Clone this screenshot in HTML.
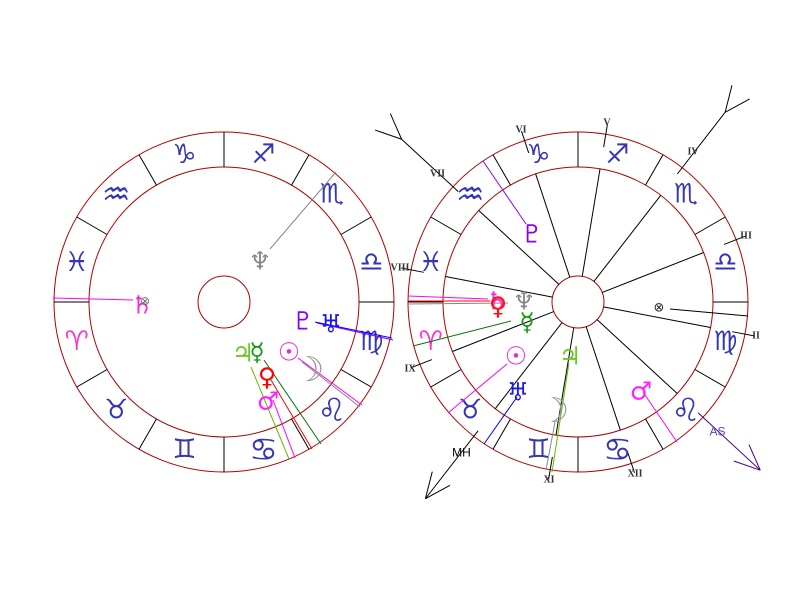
<!DOCTYPE html>
<html>
<head>
<meta charset="utf-8">
<style>
html,body{margin:0;padding:0;background:#fff;}
svg{display:block;}
.sg{font-family:"DejaVu Sans",sans-serif;font-size:27px;fill:#3636b4;}
.big{font-size:32px;}
.pl{font-family:"DejaVu Sans",sans-serif;font-size:25px;}
.hl{font-family:"Liberation Serif",serif;font-size:10px;font-weight:bold;fill:#333;}
</style>
</head>
<body>
<svg width="800" height="600" viewBox="0 0 800 600" xmlns="http://www.w3.org/2000/svg">
<rect width="800" height="600" fill="#fff"/>

<!-- ============ LEFT CHART ============ -->
<g transform="translate(224,302)">
  <circle r="170" fill="none" stroke="#b00000" stroke-width="1"/>
  <circle r="135" fill="none" stroke="#b00000" stroke-width="1"/>
  <circle r="26" fill="none" stroke="#b00000" stroke-width="1"/>
  <g stroke="#000" stroke-width="1">
    <line x1="135" y1="0" x2="170" y2="0"/>
    <line x1="135" y1="0" x2="170" y2="0" transform="rotate(-30)"/>
    <line x1="135" y1="0" x2="170" y2="0" transform="rotate(-60)"/>
    <line x1="135" y1="0" x2="170" y2="0" transform="rotate(-90)"/>
    <line x1="135" y1="0" x2="170" y2="0" transform="rotate(-120)"/>
    <line x1="135" y1="0" x2="170" y2="0" transform="rotate(-150)"/>
    <line x1="135" y1="0" x2="170" y2="0" transform="rotate(-180)"/>
    <line x1="135" y1="0" x2="170" y2="0" transform="rotate(-210)"/>
    <line x1="135" y1="0" x2="170" y2="0" transform="rotate(-240)"/>
    <line x1="135" y1="0" x2="170" y2="0" transform="rotate(-270)"/>
    <line x1="135" y1="0" x2="170" y2="0" transform="rotate(-300)"/>
    <line x1="135" y1="0" x2="170" y2="0" transform="rotate(-330)"/>
  </g>
  <g text-anchor="middle" dominant-baseline="central">
    <text class="sg" x="-147.3" y="39.5" style="fill:#ff33cc">♈&#xFE0E;</text>
    <text class="sg" x="-107.8" y="107.8">♉&#xFE0E;</text>
    <text class="sg" x="-39.5" y="147.3">♊&#xFE0E;</text>
    <text class="sg big" x="39.5" y="147.3">♋&#xFE0E;</text>
    <text class="sg big" x="107.8" y="107.8">♌&#xFE0E;</text>
    <text class="sg" x="147.3" y="39.5">♍&#xFE0E;</text>
    <text class="sg" x="147.3" y="-39.5">♎&#xFE0E;</text>
    <text class="sg" x="107.8" y="-107.8">♏&#xFE0E;</text>
    <text class="sg" x="39.5" y="-147.3">♐&#xFE0E;</text>
    <text class="sg" x="-39.5" y="-147.3">♑&#xFE0E;</text>
    <text class="sg big" x="-107.8" y="-107.8">♒&#xFE0E;</text>
    <text class="sg" x="-147.3" y="-39.5">♓&#xFE0E;</text>
  </g>
</g>

<!-- left planet lines -->
<g stroke-width="1" fill="none">
  <line x1="270" y1="249" x2="336" y2="172" stroke="#888"/>
  <line x1="53" y1="298" x2="133" y2="300" stroke="#ff00ff"/>
  <line x1="317" y1="323" x2="393" y2="340" stroke="#8800ff"/>
  <line x1="315" y1="322" x2="392" y2="338" stroke="#0000ee"/>
  <line x1="264" y1="360" x2="321" y2="444" stroke="#007700"/>
  <line x1="251" y1="367" x2="289" y2="459" stroke="#66bb00"/>
  <line x1="271" y1="380" x2="312" y2="449" stroke="#ff0000"/>
  <line x1="273" y1="400" x2="295" y2="458" stroke="#ff00ff"/>
  <line x1="302" y1="362" x2="360" y2="407" stroke="#888"/>
  <line x1="298" y1="358" x2="362" y2="405" stroke="#ff00ff"/>
</g>
<!-- left planets -->
<g text-anchor="middle" dominant-baseline="central">
  <text class="pl" x="260" y="261" fill="#888">♆</text>
  <text class="pl" x="142" y="305" fill="#ff22dd">♄</text>
  <text x="145" y="301" font-family="DejaVu Sans" font-size="12" fill="#666">⊗</text>
  <text class="pl" x="303" y="321" fill="#8800ff">♇</text>
  <text class="pl" x="331" y="324" fill="#1a1aee">♅</text>
  <text class="pl" x="243" y="353" fill="#66cc22">♃</text>
  <text class="pl" x="257" y="352" fill="#119911">☿</text>
  <text class="pl" x="289" y="352" fill="#ee22ee">☉</text>
  <text class="pl" x="309" y="370" fill="#999" style="font-size:34px">☽</text>
  <text class="pl" x="267" y="377" fill="#ff0000">♀</text>
  <text class="pl" x="268" y="401" fill="#ff22ff">♂</text>
</g>

<!-- ============ RIGHT CHART ============ -->
<g transform="translate(578,302)">
  <circle r="170" fill="none" stroke="#b00000" stroke-width="1"/>
  <circle r="135" fill="none" stroke="#b00000" stroke-width="1"/>
  <circle r="26" fill="none" stroke="#b00000" stroke-width="1"/>
  <g stroke="#000" stroke-width="1">
    <line x1="135" y1="0" x2="170" y2="0"/>
    <line x1="135" y1="0" x2="170" y2="0" transform="rotate(-30)"/>
    <line x1="135" y1="0" x2="170" y2="0" transform="rotate(-60)"/>
    <line x1="135" y1="0" x2="170" y2="0" transform="rotate(-90)"/>
    <line x1="135" y1="0" x2="170" y2="0" transform="rotate(-120)"/>
    <line x1="135" y1="0" x2="170" y2="0" transform="rotate(-150)"/>
    <line x1="135" y1="0" x2="170" y2="0" transform="rotate(-180)"/>
    <line x1="135" y1="0" x2="170" y2="0" transform="rotate(-210)"/>
    <line x1="135" y1="0" x2="170" y2="0" transform="rotate(-240)"/>
    <line x1="135" y1="0" x2="170" y2="0" transform="rotate(-270)"/>
    <line x1="135" y1="0" x2="170" y2="0" transform="rotate(-300)"/>
    <line x1="135" y1="0" x2="170" y2="0" transform="rotate(-330)"/>
    <!-- house cusps -->
    <line x1="26" y1="0" x2="135" y2="0" transform="rotate(-21.5)"/>
    <line x1="26" y1="0" x2="135" y2="0" transform="rotate(-52.2)"/>
    <line x1="26" y1="0" x2="135" y2="0" transform="rotate(-80.6)"/>
    <line x1="26" y1="0" x2="135" y2="0" transform="rotate(-108.3)"/>
    <line x1="26" y1="0" x2="135" y2="0" transform="rotate(-137.3)"/>
    <line x1="26" y1="0" x2="135" y2="0" transform="rotate(-169.1)"/>
    <line x1="26" y1="0" x2="135" y2="0" transform="rotate(-201.5)"/>
    <line x1="26" y1="0" x2="135" y2="0" transform="rotate(-232.2)"/>
    <line x1="26" y1="0" x2="135" y2="0" transform="rotate(-260.6)"/>
    <line x1="26" y1="0" x2="135" y2="0" transform="rotate(-288.3)"/>
    <line x1="26" y1="0" x2="135" y2="0" transform="rotate(-317.3)"/>
    <line x1="26" y1="0" x2="135" y2="0" transform="rotate(-349.1)"/>
    <!-- house label pointers -->
    <line x1="157" y1="0" x2="180" y2="0" transform="rotate(-349.1)"/>
    <line x1="157" y1="0" x2="180" y2="0" transform="rotate(-21.5)"/>
    <line x1="157" y1="0" x2="180" y2="0" transform="rotate(-80.6)"/>
    <line x1="157" y1="0" x2="180" y2="0" transform="rotate(-108.3)"/>
    <line x1="157" y1="0" x2="180" y2="0" transform="rotate(-169.1)"/>
    <line x1="157" y1="0" x2="180" y2="0" transform="rotate(-201.5)"/>
    <line x1="157" y1="0" x2="180" y2="0" transform="rotate(-260.6)"/>
    <line x1="157" y1="0" x2="180" y2="0" transform="rotate(-288.3)"/>
  </g>
  <!-- DS (VII) -->
  <g stroke="#000" stroke-width="1" transform="rotate(-137.3)">
    <line x1="163" y1="0" x2="240" y2="0"/>
    <line x1="240" y1="0" x2="265.7" y2="11.2"/>
    <line x1="240" y1="0" x2="265.7" y2="-11.2"/>
  </g>
  <!-- IC (IV) -->
  <g stroke="#000" stroke-width="1" transform="rotate(-52.2)">
    <line x1="162" y1="0" x2="240" y2="0"/>
    <line x1="240" y1="0" x2="265.7" y2="11.2"/>
    <line x1="240" y1="0" x2="265.7" y2="-11.2"/>
  </g>
  <!-- MH -->
  <g stroke="#000" stroke-width="1" transform="rotate(-232.2)">
    <line x1="163" y1="0" x2="249" y2="0"/>
    <line x1="249" y1="0" x2="223.3" y2="11.2"/>
    <line x1="249" y1="0" x2="223.3" y2="-11.2"/>
  </g>
  <!-- AS -->
  <g stroke="#400088" stroke-width="1" transform="rotate(-317.3)">
    <line x1="163.5" y1="0" x2="248" y2="0"/>
    <line x1="248" y1="0" x2="222.3" y2="11.2"/>
    <line x1="248" y1="0" x2="222.3" y2="-11.2"/>
  </g>
  <g text-anchor="middle" dominant-baseline="central">
    <text class="sg" x="-147.3" y="39.5" style="fill:#ff33cc">♈&#xFE0E;</text>
    <text class="sg" x="-107.8" y="107.8">♉&#xFE0E;</text>
    <text class="sg" x="-39.5" y="147.3">♊&#xFE0E;</text>
    <text class="sg big" x="39.5" y="147.3">♋&#xFE0E;</text>
    <text class="sg big" x="107.8" y="107.8">♌&#xFE0E;</text>
    <text class="sg" x="147.3" y="39.5">♍&#xFE0E;</text>
    <text class="sg" x="147.3" y="-39.5">♎&#xFE0E;</text>
    <text class="sg" x="107.8" y="-107.8">♏&#xFE0E;</text>
    <text class="sg" x="39.5" y="-147.3">♐&#xFE0E;</text>
    <text class="sg" x="-39.5" y="-147.3">♑&#xFE0E;</text>
    <text class="sg big" x="-107.8" y="-107.8">♒&#xFE0E;</text>
    <text class="sg" x="-147.3" y="-39.5">♓&#xFE0E;</text>
  </g>
</g>

<!-- house labels -->
<g text-anchor="middle" dominant-baseline="central">
  <text class="hl" x="756" y="336">II</text>
  <text class="hl" x="746" y="236">III</text>
  <text class="hl" x="693" y="152">IV</text>
  <text class="hl" x="607" y="123">V</text>
  <text class="hl" x="521" y="130">VI</text>
  <text class="hl" x="437.5" y="174">VII</text>
  <text class="hl" x="400" y="268">VIII</text>
  <text class="hl" x="410" y="369">IX</text>
  <text class="hl" x="549" y="480">XI</text>
  <text class="hl" x="635" y="474">XII</text>
  <text x="461.5" y="452.5" font-family="Liberation Sans,sans-serif" font-size="12" fill="#000">MH</text>
  <text x="717.5" y="431.5" font-family="Liberation Sans,sans-serif" font-size="12" fill="#6644aa">AS</text>
</g>

<!-- right planet lines -->
<g stroke-width="1" fill="none">
  <line x1="483" y1="161" x2="526" y2="224" stroke="#8800ff"/>
  <line x1="408" y1="296" x2="488" y2="299" stroke="#ff00ff"/>
  <line x1="408" y1="301" x2="490" y2="301" stroke="#ff0000"/>
  <line x1="408" y1="304" x2="508" y2="303" stroke="#888"/>
  <line x1="413" y1="346" x2="511" y2="321" stroke="#007700"/>
  <line x1="507" y1="364" x2="448" y2="413" stroke="#ff00ff"/>
  <line x1="517" y1="397" x2="484" y2="444" stroke="#0000ee"/>
  <line x1="569" y1="363" x2="552" y2="472" stroke="#66bb00"/>
  <line x1="555" y1="422" x2="546" y2="470" stroke="#888"/>
  <line x1="643" y1="392" x2="677" y2="442" stroke="#ff00ff"/>
  <line x1="670" y1="309" x2="748" y2="316" stroke="#000"/>
</g>
<!-- right planets -->
<g text-anchor="middle" dominant-baseline="central">
  <text class="pl" x="532" y="234" fill="#8800ff">♇</text>
  <text class="pl" x="497" y="301" fill="#ff22dd">♄</text>
  <text class="pl" x="498" y="306" fill="#ff1111">♀</text>
  <text class="pl" x="524" y="301" fill="#888">♆</text>
  <text class="pl" x="527" y="322" fill="#119911">☿</text>
  <text class="pl" x="516" y="356" fill="#ee22ee">☉</text>
  <text class="pl" x="518" y="392" fill="#1a1aee">♅</text>
  <text class="pl" x="570" y="356" fill="#66cc22">♃</text>
  <text class="pl" x="554" y="411" fill="#999" style="font-size:34px">☽</text>
  <text class="pl" x="641" y="391" fill="#ff22ff">♂</text>
  <text x="659" y="308" font-family="DejaVu Sans" font-size="13" fill="#222">⊗</text>
</g>
</svg>
</body>
</html>
